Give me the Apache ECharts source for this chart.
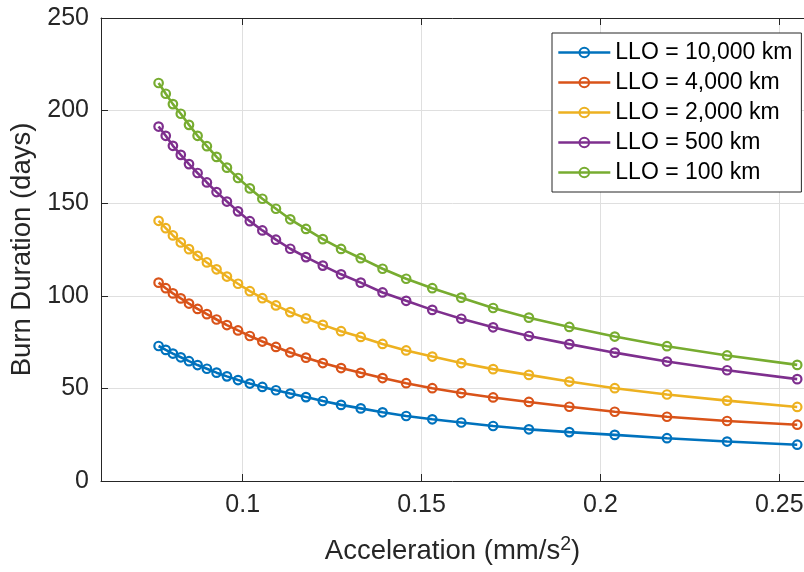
<!DOCTYPE html>
<html>
<head>
<meta charset="utf-8">
<script src="https://cdn.jsdelivr.net/npm/echarts@6/dist/echarts.min.js"></script>
<style>
html,body{margin:0;padding:0;background:#ffffff;}
#chart{width:804px;height:572px;}
</style>
</head>
<body>
<div id="chart"></div>
<script>
// ---- data ----
const acceleration = [0.0765, 0.0785, 0.0805, 0.0827, 0.0850, 0.0874, 0.0900, 0.0927, 0.0956, 0.0987,
  0.1020, 0.1055, 0.1093, 0.1133, 0.1177, 0.1224, 0.1275, 0.1330, 0.1391, 0.1457,
  0.1530, 0.1611, 0.1700, 0.1800, 0.1913, 0.2040, 0.2186, 0.2354, 0.2550];

const llo10000 = [72.9, 70.8, 68.8, 66.8, 64.7, 62.6, 60.6, 58.5, 56.5, 54.5,
  52.6, 50.8, 49.0, 47.2, 45.3, 43.2, 41.1, 39.2, 37.1, 35.1,
  33.3, 31.6, 29.7, 27.9, 26.4, 24.9, 23.1, 21.3, 19.6];
const llo4000 = [107.1, 104.1, 101.3, 98.6, 95.8, 92.9, 90.1, 87.2, 84.2, 81.3,
  78.3, 75.3, 72.4, 69.4, 66.6, 63.7, 61.0, 58.4, 55.6, 52.8,
  50.1, 47.5, 45.1, 42.7, 40.1, 37.4, 34.7, 32.4, 30.4];
const llo2000 = [140.5, 136.5, 132.6, 128.8, 125.2, 121.6, 118.0, 114.3, 110.4, 106.5,
  102.5, 98.7, 94.8, 91.2, 87.8, 84.3, 80.9, 77.8, 74.0, 70.5,
  67.2, 63.7, 60.4, 57.3, 53.7, 50.1, 46.7, 43.4, 40.0];
const llo500 = [191.4, 186.4, 181.0, 176.1, 171.1, 166.3, 161.2, 156.0, 150.9, 145.6,
  140.3, 135.3, 130.3, 125.4, 120.9, 116.3, 111.6, 107.1, 101.8, 97.3,
  92.4, 87.6, 83.0, 78.3, 73.9, 69.3, 64.5, 59.8, 55.0];
const llo100 = [214.9, 209.1, 203.5, 198.3, 192.3, 186.4, 180.8, 175.0, 169.2, 163.6,
  158.0, 152.4, 147.0, 141.3, 136.1, 130.6, 125.3, 120.3, 114.6, 109.2,
  104.1, 99.0, 93.4, 88.2, 83.2, 78.0, 72.8, 67.8, 62.7];

const seriesNames = ['LLO = 10,000 km', 'LLO = 4,000 km', 'LLO = 2,000 km', 'LLO = 500 km', 'LLO = 100 km'];
const seriesValues = [llo10000, llo4000, llo2000, llo500, llo100];
const xTickValues = [0.1, 0.15, 0.2, 0.25];

// ---- styles ----
const palette = ['#0072BD', '#D95319', '#EDB120', '#7E2F8E', '#77AC30'];
const axisColor = '#262626';
const gridColor = '#dfdfdf';
const fontFamily = '"Liberation Sans", Arial, Helvetica, sans-serif';

const chart = echarts.init(document.getElementById('chart'), null, {renderer: 'canvas'});

const series = seriesValues.map((vals, k) => ({
  name: seriesNames[k],
  type: 'line',
  xAxisIndex: 0,
  yAxisIndex: 0,
  data: vals.map((v, i) => [acceleration[i], v]),
  symbol: 'circle',
  symbolSize: 8.5,
  showAllSymbol: true,
  lineStyle: {color: palette[k], width: 2.6},
  itemStyle: {color: 'transparent', borderColor: palette[k], borderWidth: 2.2},
  emphasis: {disabled: true},
  animation: false,
  z: 2 + k
}));

const xMin = 0.0604, xMax = 0.2569;

chart.setOption({
  animation: false,
  backgroundColor: '#ffffff',
  grid: {left: 101, right: 0, top: 18, bottom: 91, containLabel: false, outerBoundsMode: 'none'},
  xAxis: [{
    type: 'value',
    position: 'bottom',
    min: xMin, max: xMax,
    name: 'Acceleration (mm/s{sup|2})',
    nameLocation: 'middle',
    nameGap: 54,
    nameTextStyle: {
      color: axisColor, fontSize: 27.5, fontFamily: fontFamily, lineHeight: 32,
      rich: {sup: {fontSize: 19.5, lineHeight: 20, verticalAlign: 'top', color: axisColor, fontFamily: fontFamily}}
    },
    axisLine: {show: true, onZero: false, lineStyle: {color: axisColor, width: 1}},
    axisTick: {show: true, inside: true, length: 7, customValues: xTickValues, lineStyle: {color: axisColor, width: 1}},
    axisLabel: {show: true, customValues: xTickValues, margin: 12, fontSize: 25, color: axisColor, fontFamily: fontFamily,
      formatter: v => String(v)},
    splitLine: {show: true, lineStyle: {color: gridColor, width: 1}}
  }, {
    type: 'value',
    position: 'top',
    min: xMin, max: xMax,
    axisLine: {show: true, onZero: false, lineStyle: {color: axisColor, width: 1}},
    axisTick: {show: true, inside: true, length: 7, customValues: xTickValues, lineStyle: {color: axisColor, width: 1}},
    axisLabel: {show: false},
    splitLine: {show: false}
  }],
  yAxis: [{
    type: 'value',
    min: 0, max: 250, interval: 50,
    name: 'Burn Duration (days)',
    nameLocation: 'middle',
    nameGap: 52,
    nameTextStyle: {color: axisColor, fontSize: 27.5, fontFamily: fontFamily},
    axisLine: {show: true, onZero: false, lineStyle: {color: axisColor, width: 1}},
    axisTick: {show: true, inside: true, length: 7, lineStyle: {color: axisColor, width: 1}},
    axisLabel: {show: true, margin: 12, fontSize: 25, color: axisColor, fontFamily: fontFamily},
    splitLine: {show: true, lineStyle: {color: gridColor, width: 1}}
  }],
  legend: {
    show: true,
    orient: 'vertical',
    left: 552,
    top: 33,
    data: seriesNames,
    itemWidth: 52,
    itemHeight: 12,
    itemGap: 7,
    padding: [8, 9, 8, 5],
    borderColor: axisColor,
    borderWidth: 1,
    borderRadius: 0,
    backgroundColor: '#ffffff',
    lineStyle: {width: 2.6},
    textStyle: {fontSize: 23, lineHeight: 22, color: '#000000', fontFamily: fontFamily},
    selectedMode: false
  },
  tooltip: {show: false},
  series: series
});
</script>
</body>
</html>
